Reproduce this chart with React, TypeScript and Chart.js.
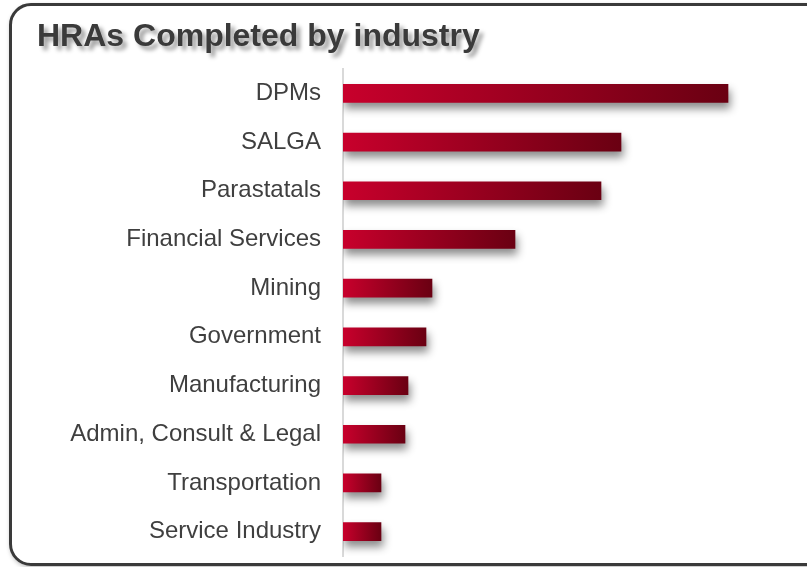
import React, { useEffect, useRef } from "react";
import { Chart, registerables } from "chart.js";

Chart.register(...registerables);

const TITLE = "HRAs Completed by industry";
const categories = [
  "DPMs",
  "SALGA",
  "Parastatals",
  "Financial Services",
  "Mining",
  "Government",
  "Manufacturing",
  "Admin, Consult & Legal",
  "Transportation",
  "Service Industry",
];
const completed = [770, 556, 516, 344, 178, 166, 130, 124, 76, 76];
const X_MAX = 900;

const FONT = "'Liberation Sans', Arial, Helvetica, sans-serif";

const barShadow = {
  id: "barShadow",
  beforeDatasetsDraw(chart: any) {
    const ctx = chart.ctx;
    ctx.save();
    ctx.shadowColor = "rgba(0,0,0,0.45)";
    ctx.shadowBlur = 8;
    ctx.shadowOffsetX = 2;
    ctx.shadowOffsetY = 6;
  },
  afterDatasetsDraw(chart: any) {
    chart.ctx.restore();
  },
};

export default function App() {
  const ref = useRef<HTMLCanvasElement | null>(null);

  useEffect(() => {
    if (!ref.current) return;
    const chart = new Chart(ref.current, {
      type: "bar",
      data: {
        labels: categories,
        datasets: [
          {
            label: "HRAs completed",
            data: completed,
            borderWidth: 0,
            barThickness: 18,
            backgroundColor: (c: any) => {
              const ch = c.chart;
              const xs = ch.scales && ch.scales.x;
              if (!ch.chartArea || !xs || typeof c.raw !== "number") return "#a80020";
              const x0 = xs.getPixelForValue(0);
              const x1 = xs.getPixelForValue(c.raw);
              const g = ch.ctx.createLinearGradient(x0, 0, Math.max(x1, x0 + 1), 0);
              g.addColorStop(0, "#c8002c");
              g.addColorStop(1, "#6a0012");
              return g;
            },
          },
        ],
      },
      options: {
        indexAxis: "y",
        responsive: false,
        animation: false,
        layout: { padding: { left: 0, right: 14, top: 69, bottom: 11 } },
        plugins: {
          legend: { display: false },
          title: { display: false },
          tooltip: { enabled: false },
        },
        scales: {
          x: {
            display: false,
            min: 0,
            max: X_MAX,
          },
          y: {
            afterFit: (scale: any) => {
              scale.width = 343;
              scale.paddingTop = 0;
              scale.paddingBottom = 0;
            },
            grid: { display: false, drawTicks: false },
            border: { display: true, color: "#d9d9d9", width: 2 },
            ticks: {
              padding: 22,
              color: "#3f3f3f",
              font: { family: FONT, size: 24 },
            },
          },
        },
      },
      plugins: [barShadow],
    });
    return () => chart.destroy();
  }, []);

  return (
    <div
      style={{
        position: "absolute",
        left: 0,
        top: 0,
        width: 807,
        height: 567,
        overflow: "hidden",
        background: "#fff",
      }}
    >
      <div
        style={{
          position: "absolute",
          left: 9,
          top: 3,
          width: 840,
          height: 563,
          boxSizing: "border-box",
          border: "3px solid #3a3a3a",
          borderRadius: 22,
          boxShadow: "1px 2px 4px rgba(0,0,0,0.25)",
        }}
      />
      <canvas
        ref={ref}
        width={807}
        height={567}
        style={{ position: "absolute", left: 0, top: 0, width: 807, height: 567 }}
      />
      <div
        style={{
          position: "absolute",
          left: 37,
          top: 19,
          fontFamily: FONT,
          fontWeight: "bold",
          fontSize: 32,
          lineHeight: "32px",
          color: "#3a3a3a",
          whiteSpace: "nowrap",
          textShadow: "4px 4px 4px rgba(0,0,0,0.4)",
        }}
      >
        {TITLE}
      </div>
    </div>
  );
}
